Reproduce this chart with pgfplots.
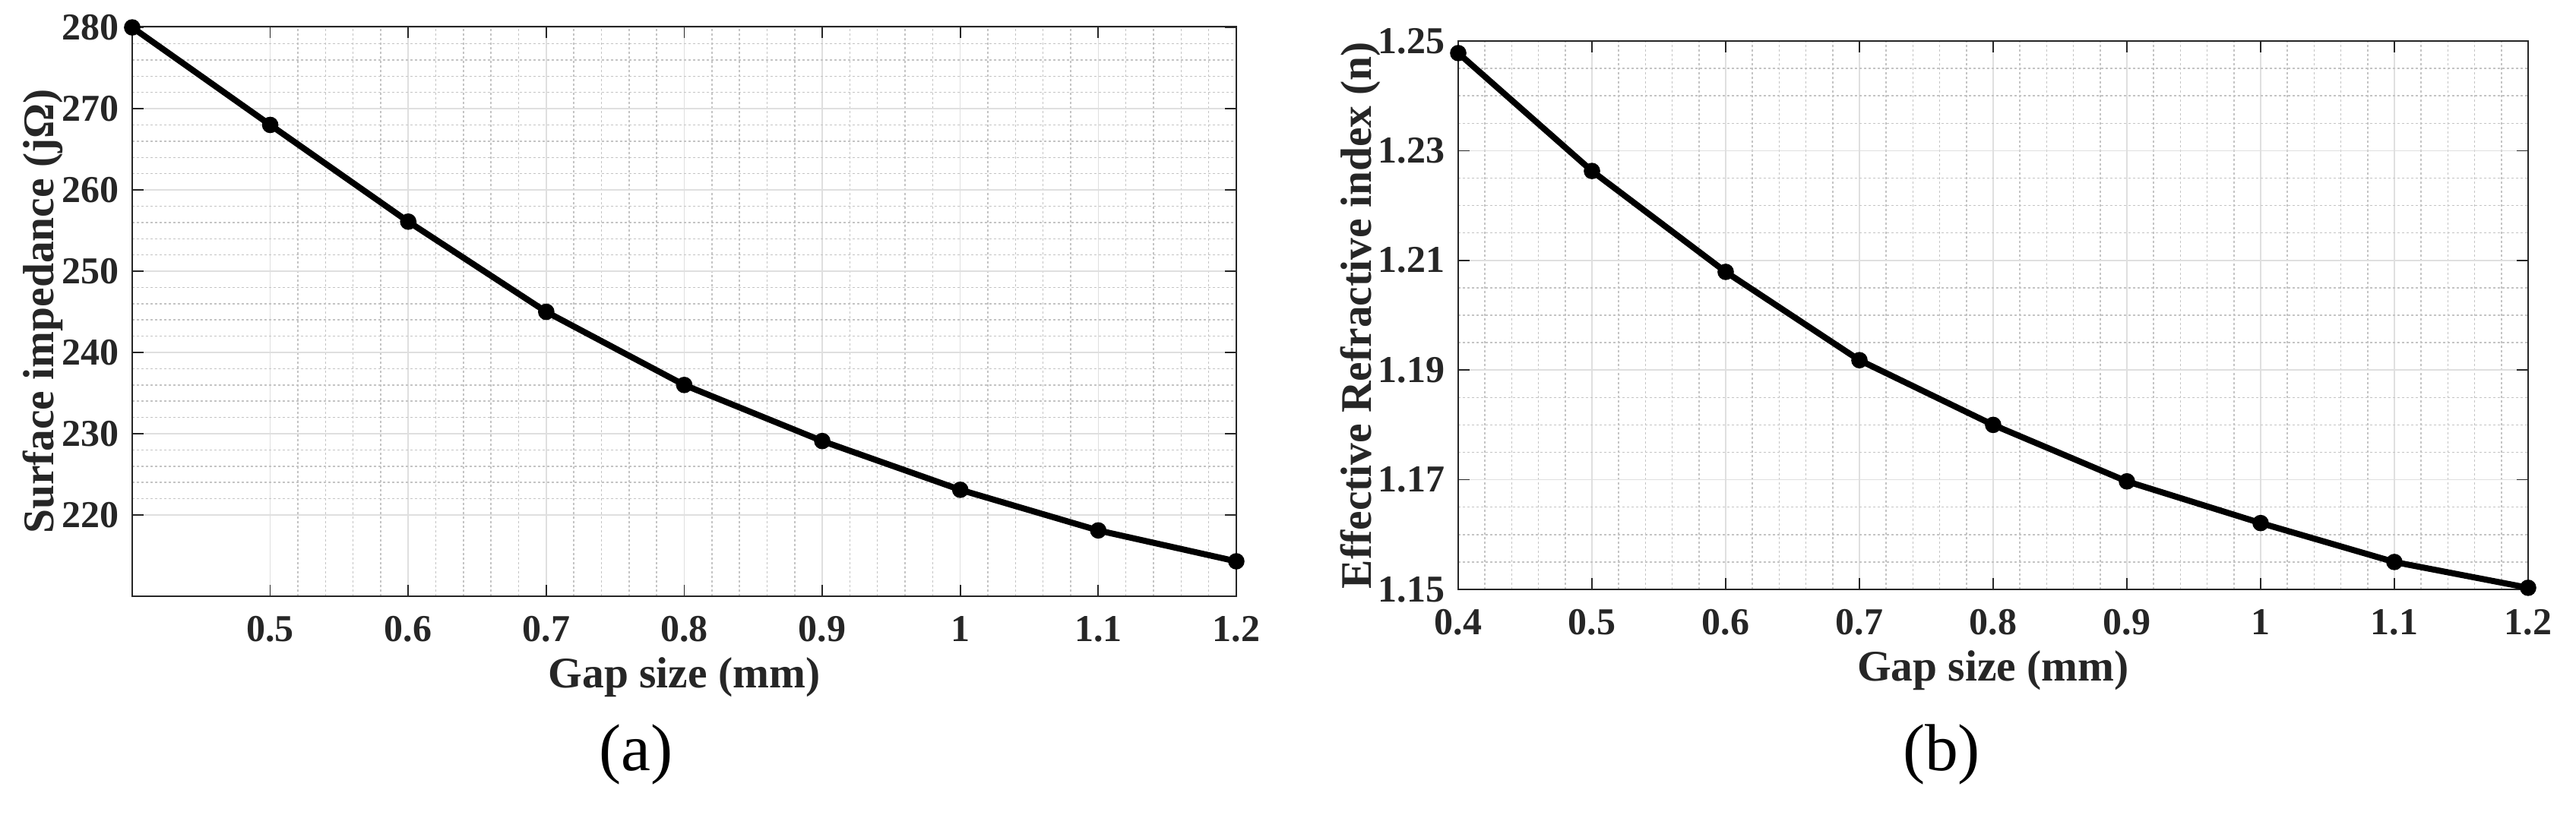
\documentclass[border=0pt]{standalone}
\usepackage{fontspec}
\setmainfont{Liberation Serif}
\usepackage{pgfplots}
\pgfplotsset{compat=1.18}

\definecolor{txt}{HTML}{262626}
\definecolor{majgrid}{HTML}{DFDFDF}
\definecolor{mingrid}{HTML}{C4C4C4}

\newcommand{\labfont}{\fontsize{11.5}{13}\selectfont\bfseries}

\pgfplotsset{matlab/.style={
  scale only axis,
  axis line style={txt, line width=0.35pt},
  tick style={txt, line width=0.35pt},
  tick align=inside,
  major tick length=3pt, minor tick length=0pt,
  grid=both,
  major grid style={majgrid, line width=0.3pt},
  minor grid style={mingrid, line width=0.3pt, dash pattern=on 0.6pt off 0.6pt},
  /pgf/number format/assume math mode=true,
  tick label style={font=\fontsize{10}{12}\selectfont\bfseries, text=txt},
  xticklabel style={yshift=-1.7pt},
  xmin=0.4, xmax=1.2,
  minor x tick num=4,
  xlabel={Gap size (mm)},
  every axis x label/.style={at={([yshift=-24pt]axis description cs:0.5,0)}, anchor=base,
    font=\labfont, text=txt},
}}
\tikzset{curve/.style={black, line width=1.6pt, mark=*, mark size=1.35pt, mark options={fill=black}}}

\begin{document}
\begin{tikzpicture}
\path[use as bounding box] (-34.8pt,-57.4pt) rectangle (643.2pt,157pt);

% (a) surface impedance
\begin{axis}[matlab, at={(0pt,0pt)}, anchor=south west,
  width=290.6pt, height=150pt,
  ymin=210, ymax=280.1,
  xtick={0.5,0.6,0.7,0.8,0.9,1,1.1,1.2},
  ytick={220,230,240,250,260,270,280},
  minor y tick num=4,
  ylabel={Surface impedance (jΩ)},
  every axis y label/.style={at={([xshift=-23.6pt]axis description cs:0,0.5)}, rotate=90,
    anchor=center, font=\labfont, text=txt},
]
\addplot[curve] coordinates {
  (0.4,280.0) (0.5,268.0) (0.6,256.1) (0.7,245.0) (0.8,236.0)
  (0.9,229.1) (1.0,223.1) (1.1,218.1) (1.2,214.3)
};
\end{axis}

% (b) effective refractive index
\begin{axis}[matlab, at={(349pt,1.8pt)}, anchor=south west,
  width=281.6pt, height=144.4pt,
  ymin=1.15, ymax=1.25,
  xtick={0.4,0.5,0.6,0.7,0.8,0.9,1,1.1,1.2},
  ytick={1.15,1.17,1.19,1.21,1.23,1.25},
  yticklabel style={/pgf/number format/.cd, fixed, fixed zerofill, precision=2},
  minor y tick num=3,
  ylabel={Effective Refractive index (n)},
  every axis y label/.style={at={([xshift=-25.8pt]axis description cs:0,0.5)}, rotate=90,
    anchor=center, font=\labfont, text=txt},
]
\addplot[curve] coordinates {
  (0.4,1.2478) (0.5,1.2263) (0.6,1.2079) (0.7,1.1918) (0.8,1.1800)
  (0.9,1.1697) (1.0,1.1621) (1.1,1.1550) (1.2,1.1503)
};
\end{axis}

\node[font=\fontsize{17.5}{19}\selectfont, text=black] at (132.6pt,-41.6pt) {(a)};
\node[font=\fontsize{17.5}{19}\selectfont, text=black] at (476.2pt,-41.6pt) {(b)};
\end{tikzpicture}
\end{document}
